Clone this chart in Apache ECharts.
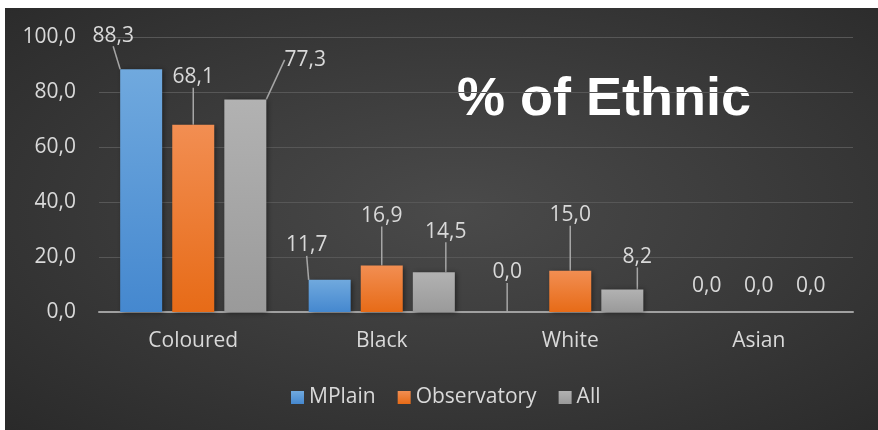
<!DOCTYPE html>
<html>
<head>
<meta charset="utf-8">
<script src="https://cdn.jsdelivr.net/npm/echarts@6/dist/echarts.min.js"></script>
<style>
html,body{margin:0;padding:0;background:#fff;}
#wrap{position:absolute;left:5px;top:8px;width:873px;height:422px;
background:radial-gradient(ellipse at 52% 48%, #4a4a4a 0%, #3c3c3c 45%, #2a2a2a 100%);}
#chart{position:absolute;left:0;top:0;width:878px;height:430px;}
</style>
</head>
<body>
<div id="wrap"></div>
<div id="chart"></div>
<script>
const categories = ['Coloured', 'Black', 'White', 'Asian'];
const seriesNames = ['MPlain', 'Observatory', 'All'];
const mplain = [88.3, 11.7, 0.0, 0.0];
const observatory = [68.1, 16.9, 15.0, 0.0];
const all = [77.3, 14.5, 8.2, 0.0];
const yTicks = {min: 0, max: 100, interval: 20};
const titleText = '% of Ethnic';

// label callout offsets (dx, dy) relative to default top label position
const labelOffsets = [
  [[-28, -18], [-23, -19], [-11, -24], [0, -10]],
  [[0, -32], [0, -34], [0, -40], [0, -10]],
  [[60, -24], [12, -25], [15, -17], [0, -10]]
];

const fmt = v => Number(v).toFixed(1).replace('.', ',');
const grad = (a, b) => new echarts.graphic.LinearGradient(0, 0, 0, 1, [{offset: 0, color: a}, {offset: 1, color: b}]);
const colors = [grad('#70a9de', '#4588cf'), grad('#f28e52', '#e76b17'), grad('#b2b2b2', '#9a9a9a')];
const values = [mplain, observatory, all];
const FS = 21;
const chart = echarts.init(document.getElementById('chart'), null, {renderer: 'canvas'});

const series = values.map((vals, si) => ({
  name: seriesNames[si],
  type: 'bar',
  barWidth: 42,
  barGap: '24%',
  data: vals.map((v, i) => ({
    value: v,
    labelLine: {show: labelOffsets[si][i][0] !== 0 || Math.abs(labelOffsets[si][i][1]) > 12}
  })),
  itemStyle: {
    color: colors[si],
    shadowBlur: 5, shadowOffsetX: 2, shadowOffsetY: 1, shadowColor: 'rgba(0,0,0,0.45)'
  },
  label: {
    show: true, position: 'top', distance: 5,
    color: '#d9d9d9', fontSize: FS, fontFamily: 'Open Sans',
    formatter: p => fmt(p.value)
  },
  labelLine: {show: true, lineStyle: {color: '#a6a6a6', width: 1.5}},
  labelLayout: p => ({dx: labelOffsets[si][p.dataIndex][0], dy: labelOffsets[si][p.dataIndex][1]})
}));

chart.setOption({
  backgroundColor: 'transparent',
  animation: false,
  grid: {left: 99, right: 25, top: 37, bottom: 118},
  legend: {
    data: seriesNames, left: 286, top: 382, itemWidth: 13, itemHeight: 13, itemGap: 22,
    icon: 'rect',
    textStyle: {color: '#d9d9d9', fontSize: FS, fontFamily: 'Open Sans'}
  },
  graphic: [{
    type: 'text', x: 604, y: 100,
    style: {text: titleText, fill: '#ffffff', font: 'bold 54px "Liberation Sans", Arial, sans-serif',
            align: 'center', verticalAlign: 'middle'}
  }],
  xAxis: {
    type: 'category', data: categories,
    axisLine: {lineStyle: {color: '#a0a0a0', width: 2}},
    axisTick: {show: false},
    axisLabel: {color: '#d9d9d9', fontSize: FS, fontFamily: 'Open Sans', margin: 19}
  },
  yAxis: {
    type: 'value', min: yTicks.min, max: yTicks.max, interval: yTicks.interval,
    axisLine: {show: false}, axisTick: {show: false},
    splitLine: {lineStyle: {color: '#575757', width: 1}},
    axisLabel: {color: '#d9d9d9', fontSize: FS, fontFamily: 'Open Sans', margin: 23, formatter: v => fmt(v)}
  },
  series: series
});
</script>
</body>
</html>
